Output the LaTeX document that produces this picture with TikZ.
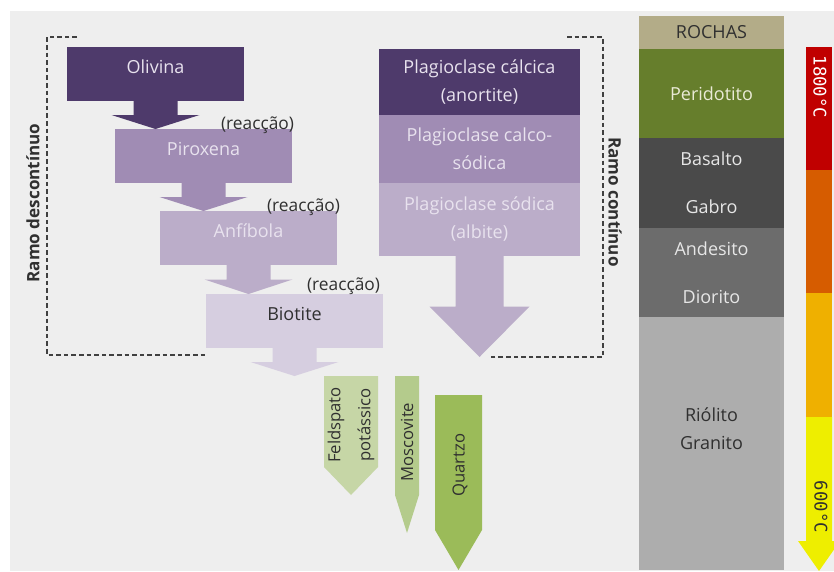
\documentclass[tikz,border=0pt]{standalone}
\usepackage{fontspec}
\setmainfont{Open Sans}
\newfontfamily\monofont{DejaVu Sans Mono}
\usetikzlibrary{calc, positioning}

\definecolor{paper}{HTML}{EEEEEE}
\definecolor{violetA}{HTML}{4E3A6B}
\definecolor{violetB}{HTML}{A08CB4}
\definecolor{violetC}{HTML}{BBADC9}
\definecolor{violetD}{HTML}{D6CEE0}
\definecolor{paleTxt}{HTML}{E8E2EE}
\definecolor{inkTxt}{HTML}{303030}
\definecolor{bracketGray}{HTML}{404040}
\definecolor{sage}{HTML}{C6D6A6}
\definecolor{fern}{HTML}{B4CB8C}
\definecolor{moss}{HTML}{9BBB59}
\definecolor{sand}{HTML}{B3AC88}
\definecolor{olive}{HTML}{667E2C}
\definecolor{charcoal}{HTML}{4A4A4A}
\definecolor{slate}{HTML}{6C6C6C}
\definecolor{ash}{HTML}{ADADAD}
\definecolor{creamTxt}{HTML}{EAEAD6}
\definecolor{paleGray}{HTML}{E6E6E6}
\definecolor{heatA}{HTML}{C00000}
\definecolor{heatB}{HTML}{D65C00}
\definecolor{heatC}{HTML}{EFB000}
\definecolor{heatD}{HTML}{EEEE00}

\begin{document}
\begin{tikzpicture}[
    x=0.75pt, y=-0.75pt,
    every node/.style={inner sep=0pt, outer sep=0pt, font=\fontsize{13.5}{21}\selectfont},
    mineral/.style={minimum width=132.75pt, minimum height=40.5pt, anchor=north west,
                    text height=9.5pt, text depth=11pt},
    plag/.style={minimum width=150.75pt, align=center, text=paleTxt},
    rock/.style={minimum width=108.75pt, align=center},
    note/.style={anchor=base east, text=inkTxt, font=\fontsize{13}{15}\selectfont},
    branch/.style={font=\bfseries\fontsize{12.8}{15}\selectfont, text=inkTxt},
    bracket/.style={draw=bracketGray, line width=1.1pt, dash pattern=on 3.5pt off 2.2pt},
    crystal/.style={rotate=90, align=center, text=inkTxt, font=\fontsize{12.5}{22.5}\selectfont},
    temp/.style={rotate=-90, font=\monofont\fontsize{13}{15}\selectfont}
  ]
  \useasboundingbox (0,0) rectangle (834,571);
  \clip (0,0) rectangle (834,571);
  \fill[white] (0,0) rectangle (834,571);
  \fill[paper] (10,11) rectangle (834,571);

  % ramo descontinuo
  \node[mineral, fill=violetA, text=paleTxt] (olivina) at (67,47) {Olivina};
  \node[mineral, fill=violetB, text=paleTxt] (piroxena) at (115,129) {Piroxena};
  \node[mineral, fill=violetC, text=paleTxt] (anfibola) at (160,211) {Anfíbola};
  \node[mineral, fill=violetD, text=inkTxt] (biotite) at (206,294) {Biotite};
  \coordinate (biotiteEnd) at ($(biotite.south)+(0,28)$);

  \foreach \a/\b/\c in {olivina/piroxena.north/violetA, piroxena/anfibola.north/violetB,
                        anfibola/biotite.north/violetC, biotite/biotiteEnd/violetD}{
    \coordinate (m) at ($(\a.south)!0.5!(\a.south |- \b)$);
    \fill[\c] ($(\a.south)+(-22,0)$) -- ($(m)+(-22,0)$) -- ($(m)+(-44,0)$) -- (\a.south |- \b)
      -- ($(m)+(44,0)$) -- ($(m)+(22,0)$) -- ($(\a.south)+(22,0)$) -- cycle;
  }

  \node[note] (reac1) at ($(piroxena.north east)+(2,0)$) {(reacção)};
  \node[note] (reac2) at ($(anfibola.north east)+(3,0)$) {(reacção)};
  \node[note] (reac3) at ($(biotite.north east)+(-3,-4)$) {(reacção)};

  % ramo continuo
  \node[plag, fill=violetA, minimum height=49.5pt, anchor=north west] (plagCa) at (379,49)
    {Plagioclase cálcica\\(anortite)};
  \node[plag, fill=violetB, minimum height=51pt, below=0pt of plagCa] (plagCaNa)
    {Plagioclase calco-\\sódica};
  \node[plag, fill=violetC, minimum height=54.75pt, below=0pt of plagCaNa] (plagNa)
    {Plagioclase sódica\\(albite)};
  \coordinate (plagEnd) at ($(plagNa.south)+(0,101)$);
  \coordinate (m) at ($(plagNa.south)!0.5!(plagEnd)$);
  \fill[violetC] ($(plagNa.south)+(-24,0)$) -- ($(m)+(-24,0)$) -- ($(m)+(-50,0)$) -- (plagEnd)
    -- ($(m)+(50,0)$) -- ($(m)+(24,0)$) -- ($(plagNa.south)+(24,0)$) -- cycle;

  \draw[bracket] (77,37) -- (47,37) -- (47,355) -- (207,355);
  \draw[bracket] (567,37) -- (603,37) -- (603,357) -- (490,357);
  \node[branch, rotate=90] (descontinuo) at (33,203) {Ramo descontínuo};
  \node[branch, rotate=-90] (continuo) at (615,202) {Ramo contínuo};

  % ultimos minerais
  \fill[sage] (324,376) -- (378,376) -- (378,467) -- (351,495) -- (324,467) -- cycle;
  \fill[fern] (395,376) -- (419,376) -- (419,495) -- (407,533) -- (395,495) -- cycle;
  \fill[moss] (435,395) -- (482,395) -- (482,530) -- (458.5,570) -- (435,530) -- cycle;
  \node[crystal] (feldspato) at (351,425) {Feldspato\\potássico};
  \node[crystal] (moscovite) at (407,442) {Moscovite};
  \node[crystal] (quartzo) at (460,465) {Quartzo};

  % rochas
  \node[rock, fill=sand, minimum height=24.75pt, anchor=north west, text=inkTxt] (rochas) at (639,16) {ROCHAS};
  \node[rock, fill=olive, minimum height=66.75pt, below=0pt of rochas, text=creamTxt] (peridotito) {Peridotito};
  \node[rock, fill=charcoal, minimum height=67.5pt, below=0pt of peridotito, text=paleGray] (basalto) {Basalto\\[15pt]Gabro};
  \node[rock, fill=slate, minimum height=66.75pt, below=0pt of basalto, text=paleGray] (andesito) {Andesito\\[15pt]Diorito};
  \node[rock, fill=ash, minimum height=189.75pt, below=0pt of andesito] (riolito) {};
  \node[text=inkTxt, align=center] (riolitoTxt) at ($(riolito.center)+(0,-15)$) {Riólito\\Granito};

  % temperatura
  \fill[heatA] (806,47) rectangle (832,170);
  \fill[heatB] (806,170) rectangle (832,293);
  \fill[heatC] (806,293) rectangle (832,417);
  \fill[heatD] (806,417) -- (832,417) -- (832,541) -- (840,541) -- (819,571) -- (798,541) -- (806,541) -- cycle;
  \node[temp, text=white] (hot) at (820,87) {1800°C};
  \node[temp, text=inkTxt] (cold) at (821,507) {600°C};
\end{tikzpicture}
\end{document}
